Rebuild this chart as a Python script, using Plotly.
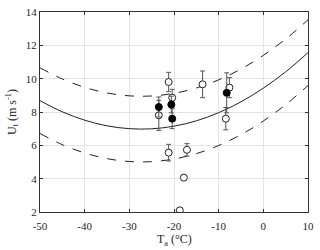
import plotly.graph_objects as go

# Curve values (every 5 °C)
curve_t = [-50, -45, -40, -35, -30, -25, -20, -15, -10, -5, 0, 5, 10]
curve_mid = [8.68, 8.01, 7.51, 7.17, 7.00, 6.99, 7.15, 7.47, 7.96, 8.61, 9.43, 10.41, 11.56]
curve_up = [10.65, 9.98, 9.48, 9.14, 8.97, 8.96, 9.12, 9.44, 9.93, 10.58, 11.40, 12.38, 13.53]
curve_lo = [6.71, 6.04, 5.54, 5.20, 5.03, 5.02, 5.18, 5.50, 5.99, 6.64, 7.46, 8.44, 9.59]

# Open-circle observations
open_t = [-21.2, -20.4, -23.4, -13.6, -7.6, -8.4, -21.2, -17.1, -17.8, -18.7]
open_u = [9.80, 8.86, 7.80, 9.66, 9.46, 7.60, 5.56, 5.73, 4.06, 2.10]
open_err = [0.58, 0.50, 0.90, 0.80, 0.60, 0.67, 0.50, 0.37, 0.15, 0.08]

# Filled-circle observations
fill_t = [-23.4, -20.6, -20.4, -8.2]
fill_u = [8.30, 8.45, 7.60, 9.15]
fill_err = [0.60, 0.50, 0.60, 1.20]

x_ticks = [-50, -40, -30, -20, -10, 0, 10]
y_ticks = [2, 4, 6, 8, 10, 12, 14]

fig = go.Figure()
for yy, dash in [(curve_up, "dash"), (curve_lo, "dash"), (curve_mid, "solid")]:
    fig.add_trace(go.Scatter(x=curve_t, y=yy, mode="lines",
                             line=dict(color="#222222", width=1, dash=dash, shape="spline"),
                             hoverinfo="skip", showlegend=False))

fig.add_trace(go.Scatter(x=open_t, y=open_u, mode="markers",
                         marker=dict(symbol="circle", size=7, color="white",
                                     line=dict(color="#222222", width=1)),
                         error_y=dict(type="data", array=open_err, color="#555555",
                                      thickness=1, width=2.5),
                         showlegend=False))
fig.add_trace(go.Scatter(x=fill_t, y=fill_u, mode="markers",
                         marker=dict(symbol="circle", size=7, color="black",
                                     line=dict(color="black", width=1)),
                         error_y=dict(type="data", array=fill_err, color="#555555",
                                      thickness=1, width=2.5),
                         showlegend=False))

axis_common = dict(showgrid=True, gridcolor="#e3e3e3", gridwidth=1,
                   showline=True, linecolor="#333333", linewidth=1.3, mirror="ticks",
                   ticks="inside", ticklen=3, tickcolor="#333333",
                   ticklabeloverflow="allow",
                   zeroline=False, tickfont=dict(family="Liberation Serif", size=11, color="#262626"))

fig.update_xaxes(range=[-50, 10], tickvals=x_ticks, ticktext=[str(v) for v in x_ticks],
                 ticklabelstandoff=4, **axis_common)
fig.update_yaxes(range=[2, 14], tickvals=y_ticks, ticktext=[str(v) for v in y_ticks],
                 title=dict(text="U<sub>t</sub> (m s<sup>-1</sup>)", standoff=6,
                            font=dict(family="Liberation Serif", size=12, color="#262626")),
                 **axis_common)

fig.add_annotation(text="T<sub>a</sub> (°C)", x=0.5, xref="paper", y=-0.14, yref="paper",
                   xanchor="center", yanchor="middle", showarrow=False,
                   font=dict(family="Liberation Serif", size=12, color="#262626"))

fig.update_layout(width=320, height=250, margin=dict(l=40, r=8, t=6, b=38),
                  plot_bgcolor="white", paper_bgcolor="white",
                  font=dict(family="Liberation Serif"))

fig.write_html("out.html", config={"displayModeBar": False},
               post_script="document.body.style.margin='0';")
